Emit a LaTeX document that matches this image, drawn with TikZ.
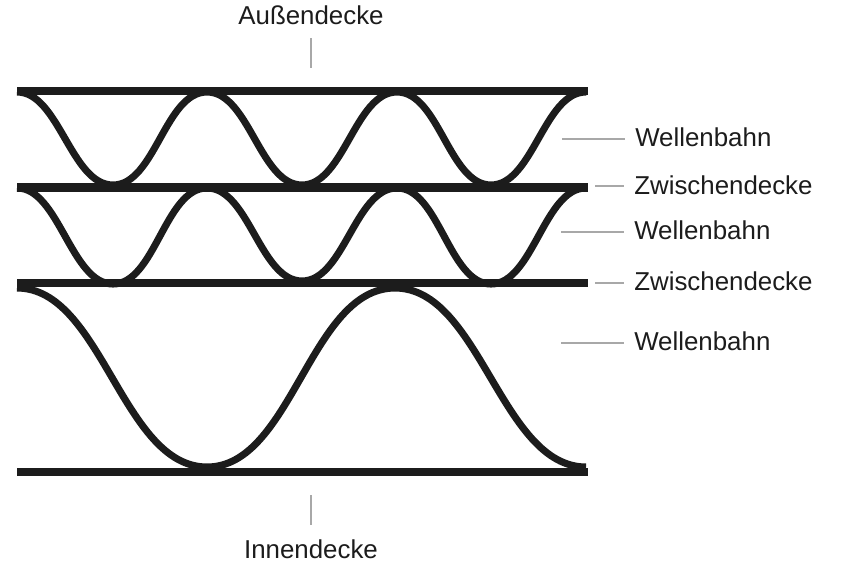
\documentclass[tikz,border=0pt]{standalone}
\usepackage{fontspec}
\setmainfont{Liberation Sans}
\definecolor{ink}{HTML}{1C1C1C}
\definecolor{lead}{HTML}{A8A8A8}
\tikzset{
  deck/.style={draw=ink,line width=6.2pt,line cap=butt},
  wave/.style={draw=ink,line width=5.3pt,line join=round},
  leader/.style={draw=lead,line width=1.5pt},
  lab/.style={font=\fontsize{19.4}{20}\selectfont,text=ink,inner sep=0pt,anchor=west},
  labc/.style={font=\fontsize{19.4}{20}\selectfont,text=ink,inner sep=0pt,anchor=center},
}
\begin{document}
\begin{tikzpicture}[x=0.75pt,y=-0.75pt]
\useasboundingbox (0,0) rectangle (848,565);
% waves
\draw[wave] (17,92)
  .. controls (59,92) and (71,185) .. (113,185)
  .. controls (155,185) and (165,92) .. (207,92)
  .. controls (249,92) and (260,185) .. (302,185)
  .. controls (344,185) and (355,92) .. (397,92)
  .. controls (439,92) and (449,185) .. (491,185)
  .. controls (533,185) and (544,92) .. (586,92);
\draw[wave] (17,188)
  .. controls (59,188) and (71,284) .. (113,284)
  .. controls (155,284) and (165,188) .. (207,188)
  .. controls (249,188) and (260,281) .. (302,281)
  .. controls (344,281) and (355,188) .. (397,188)
  .. controls (439,188) and (449,284) .. (491,284)
  .. controls (533,284) and (544,188) .. (586,188);
\draw[wave] (17,288)
  .. controls (102,288) and (122,467) .. (207,467)
  .. controls (292,467) and (310,288) .. (395,288)
  .. controls (480,288) and (501,467) .. (586,467);
% decks
\coordinate (d1a) at (17,91); \coordinate (d1b) at (588,91);
\coordinate (d2a) at (17,187.5); \coordinate (d2b) at (588,187.5);
\coordinate (d3a) at (17,283); \coordinate (d3b) at (588,283);
\coordinate (d4a) at (17,472); \coordinate (d4b) at (588,472);
\draw[deck] (d1a) -- (d1b);
\draw[deck] (d2a) -- (d2b);
\draw[deck] (d3a) -- (d3b);
\draw[deck] (d4a) -- (d4b);
% labels
\node[labc] (aus) at (311,15) {Außendecke};
\node[labc] (inn) at (311,549) {Innendecke};
\node[lab] (w1) at (635,137.5) {Wellenbahn};
\node[lab] (z1) at (634,185.5) {Zwischendecke};
\node[lab] (w2) at (634,230.5) {Wellenbahn};
\node[lab] (z2) at (634,281.5) {Zwischendecke};
\node[lab] (w3) at (634,341.5) {Wellenbahn};
% leaders
\coordinate (l0) at (311,38); \coordinate (l0e) at (311,68);
\coordinate (l1) at (311,495); \coordinate (l1e) at (311,525);
\draw[leader] (l0) -- (l0e);
\draw[leader] (l1) -- (l1e);
\coordinate (a1) at (562,138.5); \coordinate (b1) at (625,138.5);
\coordinate (a2) at (595,186); \coordinate (b2) at (624,186);
\coordinate (a3) at (561,231.5); \coordinate (b3) at (624,231.5);
\coordinate (a4) at (595,282.5); \coordinate (b4) at (624,282.5);
\coordinate (a5) at (561,342.5); \coordinate (b5) at (624,342.5);
\foreach \i in {1,...,5} \draw[leader] (a\i) -- (b\i);
\end{tikzpicture}
\end{document}
